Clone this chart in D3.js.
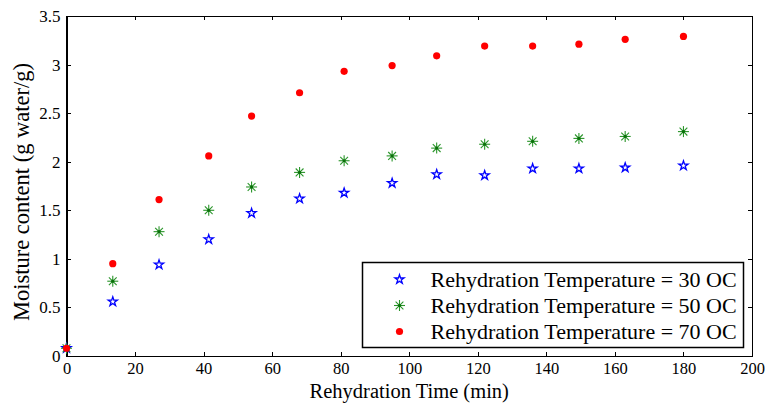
<!DOCTYPE html>
<html lang="en">
<head>
  <meta charset="UTF-8">
  <title>Moisture content vs rehydration time</title>
  <script src="https://d3js.org/d3.v7.min.js"></script>
  <style>
    body, html {
      margin: 0;
      padding: 0;
      background-color: #fff;
      overflow: hidden;
    }
    svg text {
      font-family: 'Liberation Serif', 'Times New Roman', serif;
      fill: #000;
    }
    .axis path, .axis line {
      stroke: #000;
      shape-rendering: crispEdges;
    }
  </style>
</head>
<body>
  <svg id="chart"></svg>
  <script>
    // Values
    const times = [0, 13.5, 27, 41.5, 54, 68, 81, 95, 108, 122, 136, 149.5, 163, 180];
    const temp30 = [0.08, 0.56, 0.94, 1.20, 1.47, 1.62, 1.68, 1.78, 1.87, 1.86, 1.93, 1.93, 1.94, 1.96];
    const temp50 = [0.08, 0.77, 1.28, 1.50, 1.74, 1.89, 2.01, 2.06, 2.14, 2.18, 2.21, 2.24, 2.26, 2.31];
    const temp70 = [0.08, 0.95, 1.61, 2.06, 2.47, 2.71, 2.93, 2.99, 3.09, 3.19, 3.19, 3.21, 3.26, 3.29];
    const seriesNames = [
      "Rehydration Temperature = 30 OC",
      "Rehydration Temperature = 50 OC",
      "Rehydration Temperature = 70 OC"
    ];
    const xTicks = [0, 20, 40, 60, 80, 100, 120, 140, 160, 180, 200];
    const yTicks = [0, 0.5, 1, 1.5, 2, 2.5, 3, 3.5];

    const width = 768, height = 403;
    const margin = {left: 66.5, right: 16, top: 16, bottom: 47};

    const svg = d3.select("#chart")
      .attr("width", width)
      .attr("height", height);

    const x = d3.scaleLinear().domain([0, 200]).range([margin.left, width - margin.right]);
    const y = d3.scaleLinear().domain([0, 3.5]).range([height - margin.bottom, margin.top]);

    const x0 = x.range()[0], x1 = x.range()[1];
    const y0 = y.range()[0], y1 = y.range()[1];

    // ticks pointing inward on all four sides
    svg.append("g").attr("class", "axis")
      .attr("transform", `translate(0,${y0})`)
      .call(d3.axisBottom(x).tickValues(xTicks).tickSize(-4).tickPadding(6).tickFormat(d3.format("d")))
      .call(g => g.selectAll("text").style("font-size", "16.5px"));

    svg.append("g").attr("class", "axis")
      .attr("transform", `translate(0,${y1})`)
      .call(d3.axisTop(x).tickValues(xTicks).tickSize(-4).tickFormat(""));

    svg.append("g").attr("class", "axis")
      .attr("transform", `translate(${x0},0)`)
      .call(d3.axisLeft(y).tickValues(yTicks).tickSize(-4).tickPadding(6).tickFormat(d3.format("")))
      .call(g => g.selectAll("text").style("font-size", "17px"));

    svg.append("g").attr("class", "axis")
      .attr("transform", `translate(${x1},0)`)
      .call(d3.axisRight(y).tickValues(yTicks).tickSize(-4).tickFormat(""));

    svg.selectAll(".axis path").attr("stroke-width", 1.5);

    // axis labels
    svg.append("text")
      .attr("x", (x0 + x1) / 2)
      .attr("y", 398)
      .attr("text-anchor", "middle")
      .style("font-size", "20.5px")
      .text("Rehydration Time (min)");

    svg.append("text")
      .attr("transform", `translate(29,192) rotate(-90)`)
      .attr("text-anchor", "middle")
      .style("font-size", "22.5px")
      .text("Moisture content (g water/g)");

    // marker drawers
    const star = d3.symbol().type(d3.symbolStar).size(26);

    function drawStar(g) {
      g.append("path").attr("d", star())
        .attr("fill", "none")
        .attr("stroke", "#0000ff")
        .attr("stroke-width", 1.3);
    }
    function drawAsterisk(g) {
      const r = 5.5;
      [0, 45, 90, 135].forEach(a => {
        const rad = a * Math.PI / 180;
        g.append("line")
          .attr("x1", -r * Math.cos(rad)).attr("y1", -r * Math.sin(rad))
          .attr("x2", r * Math.cos(rad)).attr("y2", r * Math.sin(rad))
          .attr("stroke", "#2a952a")
          .attr("stroke-width", 1.1);
      });
      g.append("circle").attr("r", 1.6).attr("fill", "#0a700a");
    }
    function drawDot(g) {
      g.append("circle").attr("r", 3.6).attr("fill", "#ff0000");
    }

    const series = [
      {values: temp30, draw: drawStar},
      {values: temp50, draw: drawAsterisk},
      {values: temp70, draw: drawDot}
    ];

    series.forEach(s => {
      svg.append("g")
        .selectAll("g")
        .data(times.map((t, i) => ({t: t, v: s.values[i]})))
        .enter().append("g")
        .attr("transform", d => `translate(${x(d.t)},${y(d.v)})`)
        .each(function() { s.draw(d3.select(this)); });
    });

    // legend
    const legend = svg.append("g").attr("transform", "translate(362.5,262.5)");
    legend.append("rect")
      .attr("width", 381)
      .attr("height", 85)
      .attr("fill", "#fff")
      .attr("stroke", "#000")
      .attr("stroke-width", 1.5);

    seriesNames.forEach((name, i) => {
      const row = legend.append("g").attr("transform", `translate(37,${17 + i * 26})`);
      series[i].draw(row.append("g"));
      row.append("text")
        .attr("x", 31)
        .attr("y", 7.5)
        .style("font-size", "22px")
        .text(name);
    });
  </script>
</body>
</html>
